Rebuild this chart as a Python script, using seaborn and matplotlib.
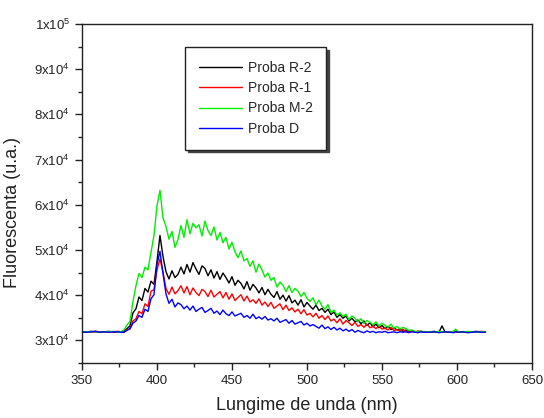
import numpy as np
import pandas as pd
import matplotlib
matplotlib.use("Agg")
import matplotlib.pyplot as plt
import seaborn as sns
from matplotlib.ticker import FixedLocator, MultipleLocator

# lungimi de unda (nm)
wl_head = [350, 353, 356, 359, 362, 365, 368, 371, 374, 376]
wl_mid = [378, 380, 382, 384, 386, 388, 390, 392, 394, 396, 398, 400, 402, 404, 406, 408,
          410, 412, 414, 416, 418, 420, 422, 424, 426, 428, 430, 432, 434, 436, 438, 440,
          442, 444, 446, 448, 450, 452, 454, 456, 458, 460, 462, 464, 466, 468, 470, 472,
          474, 476, 478, 480, 482, 484, 486, 488, 490, 492, 494, 496, 498, 500, 502, 504,
          506, 508, 510, 512, 514, 516, 518, 520, 522, 524, 526, 528, 530, 532, 534, 536,
          538, 540, 542, 544, 546, 548, 550, 552, 554, 556, 558, 560, 562, 564, 566, 568,
          570, 572, 574, 576, 578, 580]
wl_tail = [582, 585, 588, 590, 592, 595, 598, 599, 601, 604, 607, 610, 613, 616, 619]

# Proba R-2 (negru)
r2_head = [31900, 31800, 32000, 31900, 31800, 31900, 32000, 31800, 31900, 31900]
r2_mid = [32100, 32600, 33200, 36100, 37000, 39600, 38800, 41500, 40700, 43100, 42400, 47500,
          53200, 48600, 45200, 43600, 45400, 43900, 44600, 46200, 44700, 46800, 45100, 47200,
          45800, 44600, 46500, 45900, 44300, 45600, 43800, 45200, 43500, 44900, 43900, 42700,
          44100, 42200, 43300, 42600, 41400, 43000, 41100, 42400, 41600, 40500, 41700, 40100,
          41300, 40200, 39500, 40800, 39100, 40000, 38700, 39900, 38300, 38900, 37800, 39000,
          37400, 38400, 37600, 36900, 37800, 36600, 37100, 36200, 36900, 35700, 36300, 35100,
          35700, 34900, 35400, 34300, 34900, 34100, 34500, 33700, 34300, 33300, 33900, 33000,
          33600, 32800, 33300, 32600, 33100, 32400, 32800, 32300, 32500, 32000, 32300, 31900,
          32100, 31900, 31800, 32000, 31900, 31800]
r2_tail = [31900, 32000, 31800, 33200, 31900, 31800, 31900, 32000, 31800, 31900, 31800, 31900,
           32000, 31800, 31900]

# Proba R-1 (rosu)
r1_head = [31900, 31900, 31800, 32000, 31900, 31800, 31900, 31900, 32000, 31900]
r1_mid = [31800, 32400, 32500, 34300, 34800, 36400, 35900, 38100, 37500, 40900, 41200, 45600,
          48000, 45200, 41500, 40200, 41800, 40300, 41000, 42100, 40500, 41900, 40100, 41600,
          40600, 39900, 41300, 40800, 39700, 41100, 39600, 40200, 40800, 39400, 40600, 39100,
          40300, 38800, 39500, 40100, 38700, 39800, 38500, 39000, 38200, 39200, 37800, 38500,
          37500, 38400, 37100, 37600, 38100, 36800, 37800, 36600, 37200, 36300, 36900, 35900,
          36800, 35600, 36000, 35200, 36000, 34900, 35500, 34600, 35400, 34300, 34700, 33900,
          34800, 33600, 34400, 33900, 33300, 34000, 33100, 33500, 32900, 33600, 32800, 33100,
          32600, 33200, 32500, 32700, 32300, 32900, 32200, 32400, 32100, 32500, 31900, 32200,
          32000, 31800, 32100, 31900, 31800, 31900]
r1_tail = [31900, 31800, 32000, 31900, 31800, 31900, 32000, 31900, 31800, 31900, 31900, 31800,
           31900, 32000, 31900]

# Proba M-2 (verde)
m2_head = [31800, 31900, 31900, 32000, 31800, 31900, 31900, 32000, 31900, 31900]
m2_mid = [32300, 33400, 34200, 38600, 42100, 44800, 43900, 46200, 45600, 49500, 53200, 59800,
          63200, 57100, 55200, 52400, 54100, 50600, 52300, 55400, 52800, 56700, 53600, 55900,
          54900, 55600, 53100, 56400, 54300, 53200, 55100, 52200, 53900, 51600, 52800, 50200,
          51700, 49600, 48300, 49800, 47600, 48100, 46400, 47600, 45100, 46900, 45600, 44000,
          44900, 43300, 43900, 41800, 42900, 42200, 40800, 42100, 40600, 41500, 40900, 39700,
          40600, 39300, 38600, 39400, 37900, 38900, 37600, 36900, 37900, 36200, 36700, 35600,
          36100, 35300, 35800, 34600, 35400, 34900, 34100, 34800, 33700, 34400, 34000, 33500,
          34100, 33200, 33800, 33300, 32900, 33600, 32700, 33100, 32500, 32900, 32600, 32200,
          32300, 32000, 31800, 32100, 31800, 31900]
m2_tail = [31900, 31800, 32000, 31900, 31900, 31800, 32000, 32500, 31900, 31800, 32000, 31900,
           31800, 31900, 31900]

# Proba D (albastru)
d_head = [31900, 31800, 31900, 32000, 31800, 31900, 31800, 31900, 31900, 31800]
d_mid = [31800, 32200, 32600, 33800, 34300, 35500, 35100, 36900, 36400, 39200, 40100, 46800,
         49700, 44800, 40300, 38200, 39100, 37400, 38300, 37900, 37000, 37600, 36700, 37600,
         36400, 36900, 37300, 36200, 36600, 37100, 36000, 36500, 35700, 36700, 35900, 35500,
         36300, 35400, 35700, 36000, 35100, 35500, 34900, 35800, 34800, 35200, 34700, 35300,
         34500, 34800, 34300, 34900, 34000, 34300, 34600, 33800, 34400, 33600, 33900, 34200,
         33400, 33800, 33200, 33500, 33100, 32700, 33400, 32600, 33000, 32400, 32900, 32300,
         32700, 32100, 32500, 32000, 32400, 31800, 32200, 31900, 31700, 32100, 31800, 32000,
         31700, 31900, 31800, 32000, 31700, 31800, 31900, 31700, 31900, 31800, 31900, 31700,
         31900, 31800, 31700, 31900, 31800, 31800]
d_tail = [31800, 31900, 31700, 31800, 31900, 31800, 31700, 31900, 31800, 31900, 31700, 31800,
          31900, 31800, 31800]

labels = ["Proba R-2", "Proba R-1", "Proba M-2", "Proba D"]
colors = ["#000000", "#ff0000", "#00ee00", "#0000ff"]
series = [
    r2_head + r2_mid + r2_tail,
    r1_head + r1_mid + r1_tail,
    m2_head + m2_mid + m2_tail,
    d_head + d_mid + d_tail,
]
wl = wl_head + wl_mid + wl_tail

rows = []
for lab, vals in zip(labels, series):
    for x, y in zip(wl, vals):
        rows.append({"wl": x, "fl": y, "proba": lab})
df = pd.DataFrame(rows)

sns.set_style("ticks")
plt.rcParams["font.family"] = ["Liberation Sans", "DejaVu Sans"]
plt.rcParams["mathtext.fontset"] = "custom"
plt.rcParams["mathtext.rm"] = "Liberation Sans"
plt.rcParams["mathtext.it"] = "Liberation Sans"

fig = plt.figure(figsize=(5.44, 4.18), dpi=100)
ax = fig.add_axes([0.1507, 0.1316, 0.8272, 0.811])

sns.lineplot(data=df, x="wl", y="fl", hue="proba", hue_order=labels,
             palette=dict(zip(labels, colors)), estimator=None, sort=False,
             linewidth=1.0, ax=ax)

ax.set_xlim(350, 650)
ax.set_ylim(25000, 100000)
ax.xaxis.set_major_locator(MultipleLocator(50))
ax.xaxis.set_minor_locator(MultipleLocator(25))
yt = [30000, 40000, 50000, 60000, 70000, 80000, 90000, 100000]
ax.yaxis.set_major_locator(FixedLocator(yt))
ax.yaxis.set_minor_locator(MultipleLocator(5000))
ax.set_yticklabels([r"$\mathregular{%dx10^{4}}$" % (v // 10000) for v in yt[:-1]]
                   + [r"$\mathregular{1x10^{5}}$"])

ax.tick_params(axis="both", which="major", direction="out", length=5, width=1,
               labelsize=9.5, colors="#222222", labelcolor="#222222")
ax.tick_params(axis="both", which="minor", direction="out", length=3, width=1)
for s in ax.spines.values():
    s.set_linewidth(1)
    s.set_color("#222222")

ax.set_xlabel("Lungime de unda (nm)", fontsize=13, color="#222222")
ax.set_ylabel("Fluorescenta (u.a.)", fontsize=13, color="#222222")
ax.xaxis.set_label_coords(0.5, -0.10)
ax.yaxis.set_label_coords(-0.135, 0.445)

leg = ax.legend(loc="upper left", bbox_to_anchor=(0.229, 0.932), borderaxespad=0,
                fontsize=10, frameon=True, fancybox=False, edgecolor="#222222",
                handlelength=3.1, handletextpad=0.4, labelspacing=0.45,
                borderpad=1.0, shadow={"color": "#444444", "alpha": 1})
leg.get_frame().set_linewidth(1)
for h in leg.get_lines():
    h.set_linewidth(1)

plt.savefig("out.png", dpi=100)
